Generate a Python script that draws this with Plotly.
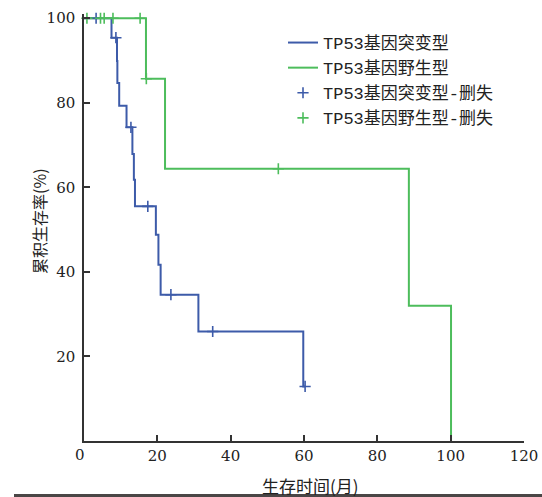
import plotly.graph_objects as go

# ---- data ----
mut_time = [0, 7.5, 9.0, 9.1, 9.6, 11.6, 13.2, 13.6, 13.9, 19.6, 20.3, 20.9, 31.2, 59.8, 60.3]
mut_surv = [100, 95.4, 89.9, 84.7, 79.3, 74.2, 67.9, 61.8, 55.5, 48.8, 41.7, 34.6, 25.9, 12.9, 12.9]
mut_cens_time = [3.3, 8.7, 12.8, 17.4, 23.7, 35.1, 60.3]
mut_cens_surv = [100, 95.4, 74.2, 55.5, 34.6, 25.9, 12.9]

wt_time = [0, 16.9, 22.1, 88.6, 100.1]
wt_surv = [100, 85.7, 64.4, 32.0, 0]
wt_cens_time = [0.8, 4.5, 5.5, 7.9, 15.3, 17.0, 53.0]
wt_cens_surv = [100, 100, 100, 100, 100, 85.7, 64.4]

names = ["TP53基因突变型", "TP53基因野生型", "TP53基因突变型-删失", "TP53基因野生型-删失"]
x_ticks = [20, 40, 60, 80, 100, 120]
y_ticks = [20, 40, 60, 80, 100]
x_title = "生存时间(月)"
y_title = "累积生存率(%)"

BLUE = "#3d5ba9"
GREEN = "#4dbd5c"

fig = go.Figure()
fig.add_trace(go.Scatter(x=mut_time, y=mut_surv, mode="lines", line=dict(color=BLUE, width=2, shape="hv"),
                         name=names[0]))
fig.add_trace(go.Scatter(x=wt_time, y=wt_surv, mode="lines", line=dict(color=GREEN, width=2, shape="hv"),
                         name=names[1]))
fig.add_trace(go.Scatter(x=mut_cens_time, y=mut_cens_surv, mode="markers",
                         marker=dict(symbol="cross-thin-open", size=8, color=BLUE,
                                     line=dict(color=BLUE, width=1.6)),
                         name=names[2], cliponaxis=False))
fig.add_trace(go.Scatter(x=wt_cens_time, y=wt_cens_surv, mode="markers",
                         marker=dict(symbol="cross-thin-open", size=8, color=GREEN,
                                     line=dict(color=GREEN, width=1.6)),
                         name=names[3], cliponaxis=False))

L, R, T, B = 84, 18, 14, 56
W, H = 542, 497
plot_h = H - T - B
plot_w = W - L - R

def px_x(p):
    return (p - L) / plot_w

def px_y(p):
    return ((H - B) - p) / plot_h

tick_font = dict(family="DejaVu Serif", size=15, color="#222")
cjk_font = dict(family="Noto Sans CJK SC", size=17, color="#222")
fig.update_xaxes(range=[0, 120], tickvals=x_ticks, ticks="inside", ticklen=6, tickwidth=1.5,
                 tickcolor="#333", showline=True, linecolor="#333", linewidth=1.5,
                 showgrid=False, zeroline=False, tickfont=tick_font, automargin=False)
fig.update_yaxes(range=[0, 101], tickvals=y_ticks, ticks="inside", ticklen=6, tickwidth=1.5,
                 tickcolor="#333", showline=True, linecolor="#333", linewidth=1.5,
                 showgrid=False, zeroline=False, tickfont=tick_font, ticklabelstandoff=4,
                 automargin=False)

fig.add_annotation(text="0", x=px_x(72.5), xref="paper", y=0, yref="y",
                   yshift=-14, showarrow=False, font=tick_font)
fig.add_annotation(text=x_title, x=px_x(310), xref="paper", y=px_y(486), yref="paper",
                   yanchor="middle", showarrow=False, font=cjk_font)
fig.add_annotation(text=y_title, x=px_x(25), xref="paper", y=px_y(221), yref="paper",
                   textangle=-90, showarrow=False, font=dict(family="Noto Sans CJK SC", size=16, color="#222"))

# dark bar at the bottom edge
fig.add_shape(type="rect", xref="paper", yref="paper",
              x0=px_x(14), x1=px_x(W + 5),
              y0=px_y(494), y1=px_y(500),
              fillcolor="#4a4646", line=dict(width=0), layer="below")

fig.update_layout(
    width=W, height=H,
    margin=dict(l=L, r=R, t=T, b=B),
    paper_bgcolor="white", plot_bgcolor="white",
    legend=dict(x=px_x(283), xanchor="left", y=px_y(25), yanchor="top",
                font=dict(family="Liberation Mono, Noto Sans CJK SC", size=17, color="#222"),
                bgcolor="rgba(0,0,0,0)", tracegroupgap=0, itemwidth=30),
    showlegend=True,
)

fig.write_html("out.html", config={"displayModeBar": False},
               post_script="document.body.style.margin='0px';document.body.style.overflow='hidden';")
